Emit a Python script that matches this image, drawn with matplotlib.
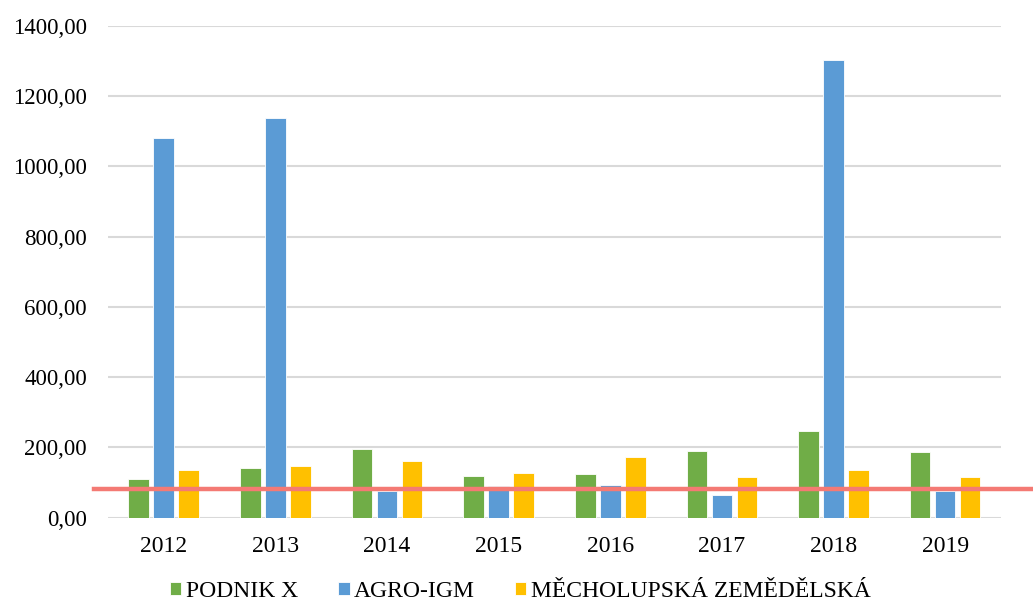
import numpy as np
import matplotlib
matplotlib.use("Agg")
import matplotlib.pyplot as plt
import matplotlib.transforms as mtransforms
from matplotlib.ticker import FuncFormatter

plt.rcParams['font.family'] = ['Liberation Serif', 'DejaVu Serif']

years = ['2012', '2013', '2014', '2015', '2016', '2017', '2018', '2019']
podnik_x = [110, 141, 195, 117, 123, 189, 247, 186]
agro_igm = [1080, 1137, 75, 90, 94, 65, 1302, 76]
mecholupska = [136, 147, 161, 127, 172, 116, 135, 116]
threshold = 81

series_names = ['PODNIK X', 'AGRO-IGM', 'MĚCHOLUPSKÁ ZEMĚDĚLSKÁ']
colors = ['#70AD47', '#5B9BD5', '#FFC000']

fig = plt.figure(figsize=(10.33, 6.06), dpi=100)
ax = fig.add_axes([0.1045, 0.146, 0.8645, 0.811])

x = np.arange(len(years))
step = 0.224
w = 0.185
for i, (vals, name, c) in enumerate(zip([podnik_x, agro_igm, mecholupska], series_names, colors)):
    ax.bar(x + (i - 1) * step, vals, width=w, color=c, edgecolor='white',
           linewidth=0.6, label=name, zorder=2)

# threshold line, reaching a bit past the plot edges
trans = mtransforms.blended_transform_factory(ax.transAxes, ax.transData)
ax.plot([-0.016, 1.04], [threshold, threshold], color='#F47A74', linewidth=3.2,
        transform=trans, clip_on=False, zorder=3)

ax.set_xlim(-0.5, len(years) - 0.5)
ax.set_ylim(0, 1400)
ax.set_yticks(np.arange(0, 1401, 200))
ax.yaxis.set_major_formatter(FuncFormatter(lambda v, p: f"{v:.2f}".replace('.', ',')))
ax.set_xticks(x)
ax.set_xticklabels(years)
ax.tick_params(axis='both', length=0)
ax.tick_params(axis='y', pad=15, labelsize=16.5)
ax.tick_params(axis='x', pad=13, labelsize=17)

for s in ax.spines.values():
    s.set_visible(False)
ax.grid(axis='y', color='#D9D9D9', linewidth=1.5, zorder=0)
ax.set_axisbelow(True)

fig.legend(loc='lower center', bbox_to_anchor=(0.504, -0.028), ncol=3, frameon=False,
           fontsize=17, handlelength=0.47, handleheight=0.47, handletextpad=0.2,
           columnspacing=1.7)

fig.savefig('out.png', dpi=100)
